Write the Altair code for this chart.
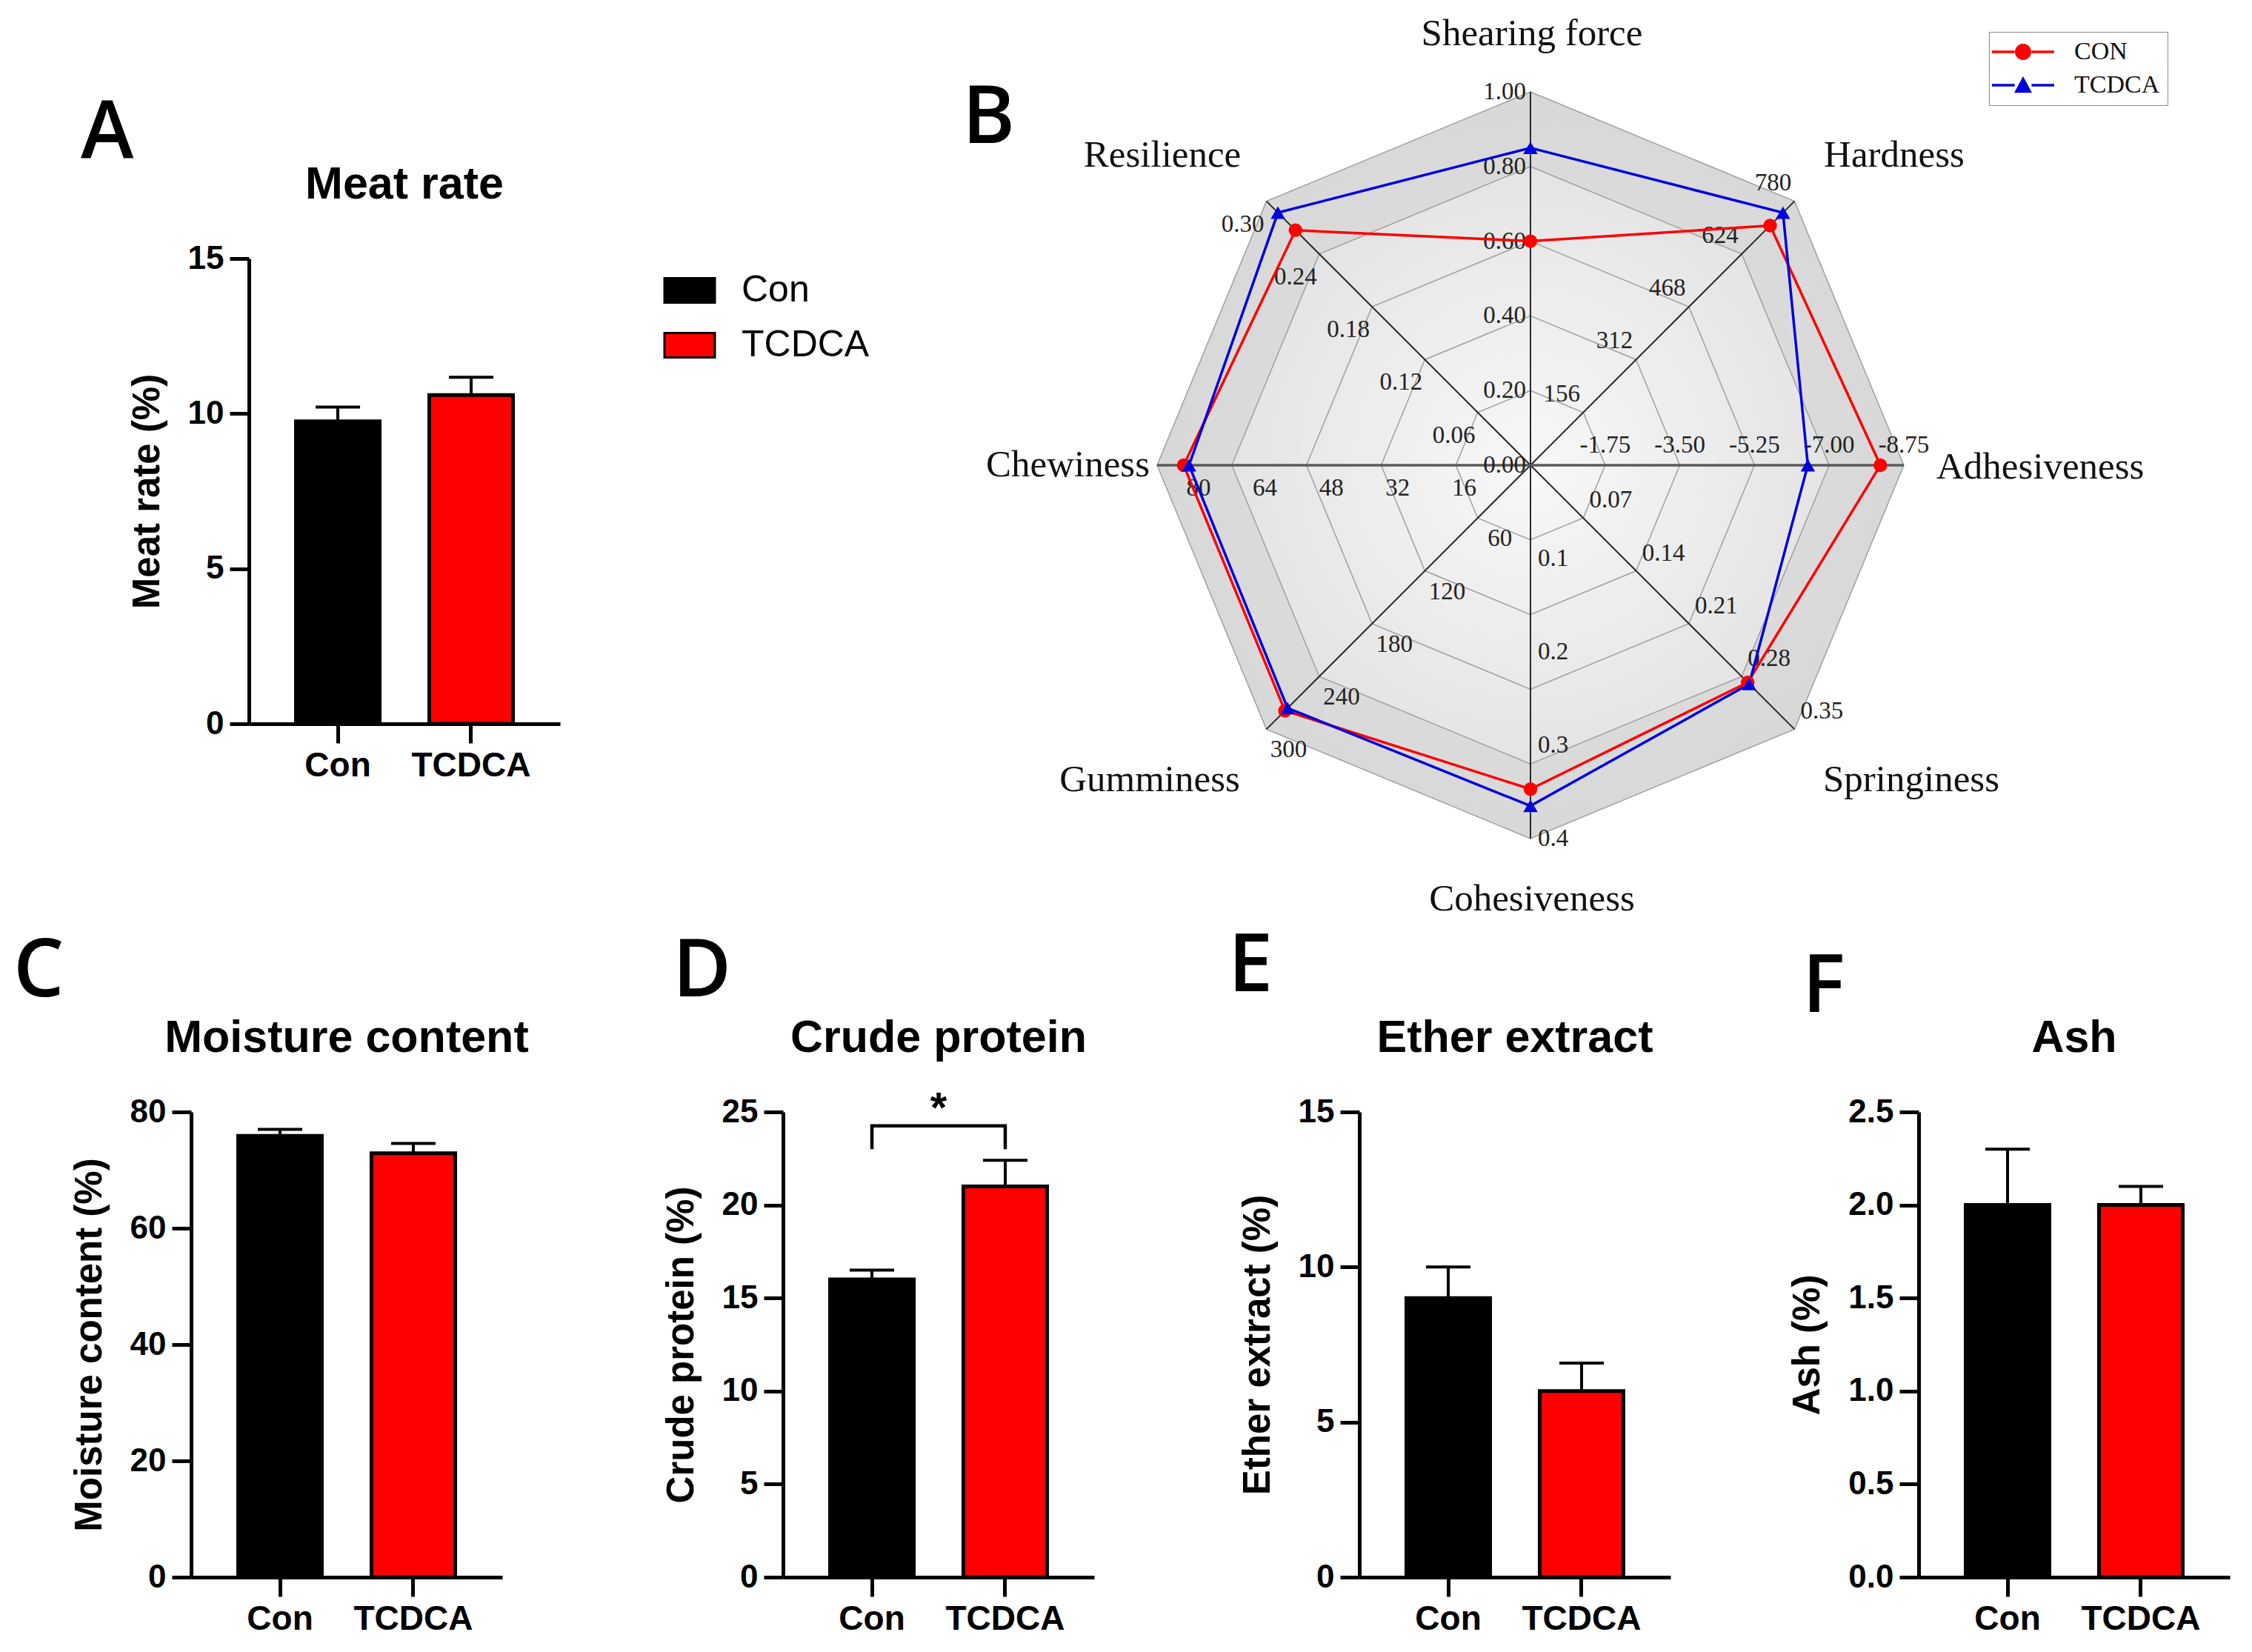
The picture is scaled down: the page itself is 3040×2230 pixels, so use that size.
import math
import altair as alt
import pandas as pd

# ------------------------------------------------------------------ data
GROUPS = ["Con", "TCDCA"]
MEAT_RATE = [9.75, 10.6]
MEAT_RATE_SEM = [0.46, 0.57]
MOISTURE = [75.9, 72.9]
MOISTURE_SEM = [1.1, 1.7]
CRUDE_PROTEIN = [16.0, 21.0]
CRUDE_PROTEIN_SEM = [0.5, 1.4]
ETHER_EXTRACT = [9.0, 6.0]
ETHER_EXTRACT_SEM = [1.0, 0.9]
ASH = [2.0, 2.0]
ASH_SEM = [0.3, 0.1]

RADAR_AXES = ["Shearing force", "Hardness", "Adhesiveness", "Springiness",
              "Cohesiveness", "Gumminess", "Chewiness", "Resilience"]
RADAR_ANGLE = [90, 45, 0, -45, -90, -135, 180, 135]
RADAR_AXIS_MAX = [1.00, 780, -8.75, 0.35, 0.40, 300, 90, 0.30]
RADAR_SERIES = ["CON", "TCDCA"]
RADAR_CON = [0.60, 708, -8.20, 0.288, 0.347, 279, 83.6, 0.267]
RADAR_TCDCA = [0.85, 746, -6.50, 0.290, 0.365, 276, 82.3, 0.287]
RADAR_TICKS = {
    "Shearing force": ["0.00", "0.20", "0.40", "0.60", "0.80", "1.00"],
    "Hardness": ["156", "312", "468", "624", "780"],
    "Adhesiveness": ["-1.75", "-3.50", "-5.25", "-7.00", "-8.75"],
    "Springiness": ["0.07", "0.14", "0.21", "0.28", "0.35"],
    "Cohesiveness": ["0.1", "0.2", "0.3", "0.4"],
    "Gumminess": ["60", "120", "180", "240", "300"],
    "Chewiness": ["16", "32", "48", "64", "80"],
    "Resilience": ["0.06", "0.12", "0.18", "0.24", "0.30"],
}
RADAR_GRID = [0.2, 0.4, 0.6, 0.8, 1.0]

# ------------------------------------------------------------------ style / layout
SANS = "Liberation Sans"
SERIF = "Liberation Serif"
LETTER_FONT = "Open Sans"
RED = "#ff0000"
BLUE = "#0000dd"
BLACK = "#000000"

PANEL_W, PANEL_H = 420, 628
ROW1_W = 2652          # plot area of top row (panel A + radar)
A_SHIFT = 78           # panel A starts this far right of the row origin
R_PX = 504.0           # radar radius in pixels
CX_PX, CY_PX = 1808.0, 279.0   # radar centre in the top row
TITLE_BASE = -81       # baseline of panel titles above plot top
ROW2_GAP = 334
ROW2_EXTRA = [45, 24, 1, 0]   # extra empty room right of each bottom panel

TICK_STYLE = {
    "Shearing force": ("right", -6, 0),
    "Hardness": ("center", -29, -25),
    "Adhesiveness": ("center", 0, -27),
    "Springiness": ("center", 37, -24),
    "Cohesiveness": ("left", 10, 0),
    "Gumminess": ("center", 30, 28),
    "Chewiness": ("center", 0, 31),
    "Resilience": ("center", -32, 31),
}
NAME_STYLE = {
    "Shearing force": ("center", 2, -582),
    "Hardness": ("center", 491, -418),
    "Adhesiveness": ("left", 548, 3),
    "Springiness": ("center", 514, 425),
    "Cohesiveness": ("center", 2, 586),
    "Gumminess": ("center", -514, 425),
    "Chewiness": ("right", -514, 0),
    "Resilience": ("center", -497, -418),
}

RECT_PATH = "M-1,-0.485H1V0.485H-1Z"


def poly_circle(r, n=24):
    pts = ["%s%.3f,%.3f" % ("M" if i == 0 else "L",
                            r * math.cos(2 * math.pi * i / n),
                            r * math.sin(2 * math.pi * i / n)) for i in range(n)]
    return "".join(pts) + "Z"


LINE_SEGS = "M-3.5,-0.15H-0.95V0.15H-3.5Z M0.95,-0.15H3.5V0.15H0.95Z "
P_CON = LINE_SEGS + poly_circle(0.92)
P_TCDCA = LINE_SEGS + "M0,-1.0L1.0,0.85L-1.0,0.85Z"


# ------------------------------------------------------------------ bar panels
def bar_layers(ytitle, vals, sems, ymax, ticks, fmt, xstart=0, yoffset=0,
               legend=None, sig=False):
    df = pd.DataFrame({"group": GROUPS, "value": vals, "sem": sems})
    df["top"] = df["value"] + df["sem"]

    xscale = alt.Scale(domain=GROUPS, paddingInner=0.372, paddingOuter=0.353,
                       range=[xstart, xstart + PANEL_W])
    xaxis = alt.Axis(title=None, labelAngle=0, labelFont=SANS, labelFontSize=46,
                     labelFontWeight="bold", labelColor="black", labelPadding=8,
                     tickSize=26, tickWidth=5, tickColor="black",
                     domainWidth=5, domainColor="black", grid=False)
    yscale = alt.Scale(domain=[0, ymax], nice=False)
    yaxis = alt.Axis(values=ticks, format=fmt, labelFont=SANS, labelFontSize=44,
                     labelFontWeight="bold", labelColor="black", labelPadding=8,
                     tickSize=26, tickWidth=5, tickColor="black",
                     domainWidth=5, domainColor="black", grid=False,
                     titleFont=SANS, titleFontSize=51, titleFontWeight="bold",
                     titleColor="black", titlePadding=28, offset=yoffset)

    def X():
        return alt.X("group:N", sort=GROUPS, scale=xscale, axis=xaxis)

    def Y(field):
        return alt.Y(f"{field}:Q", title=ytitle, scale=yscale, axis=yaxis)

    base = alt.Chart(df)
    bars = base.mark_bar(stroke="black", strokeWidth=5, opacity=1).encode(
        x=X(), y=Y("value"),
        color=alt.Color("group:N", scale=alt.Scale(domain=GROUPS, range=[BLACK, RED]),
                        legend=legend))
    whisker = base.mark_rule(color="black", strokeWidth=4).encode(
        x=X(), y=Y("value"), y2="top:Q")
    cap = base.mark_tick(color="black", thickness=4, size=60,
                         orient="horizontal", opacity=1).encode(x=X(), y=Y("top"))
    layers = [bars, whisker, cap]
    if sig:
        peak = float(df["top"].max())
        br = pd.DataFrame({"group": [GROUPS[0], GROUPS[0], GROUPS[1], GROUPS[1]],
                           "by": [peak + 0.6, peak + 1.85, peak + 1.85, peak + 0.6],
                           "k": [0, 1, 2, 3]})
        layers.append(alt.Chart(br).mark_line(color="black", strokeWidth=4.5).encode(
            x=X(), y=Y("by"), order="k:Q"))
        st = pd.DataFrame({"s": ["*"], "sy": [peak + 2.05]})
        layers.append(alt.Chart(st).mark_text(font=SANS, fontSize=58, fontWeight="bold",
                                              color="black", baseline="alphabetic",
                                              align="center").encode(
            text="s:N", x=alt.value(xstart + PANEL_W / 2), y=Y("sy")))
    return layers


def letter(t, dx, dy):
    return alt.Chart(pd.DataFrame({"t": [t]})).mark_text(
        font=LETTER_FONT, fontSize=108, fontWeight=600, align="left",
        baseline="alphabetic", color="black").encode(
        text="t:N", x=alt.value(dx), y=alt.value(dy))


def title_text(t, cx):
    return alt.Chart(pd.DataFrame({"t": [t]})).mark_text(
        font=SANS, fontSize=61, fontWeight="bold", align="center",
        baseline="alphabetic", color="black").encode(
        text="t:N", x=alt.value(cx), y=alt.value(TITLE_BASE))


# ------------------------------------------------------------------ radar
XD = [-CX_PX / R_PX, (ROW1_W - CX_PX) / R_PX]
YD = [(CY_PX - PANEL_H) / R_PX, CY_PX / R_PX]
SX = alt.Scale(domain=XD, nice=False, zero=False)
SY = alt.Scale(domain=YD, nice=False, zero=False)


def RX(f):
    return alt.X(f, scale=SX, axis=None)


def RY(f):
    return alt.Y(f, scale=SY, axis=None)


def cs(a):
    return math.cos(math.radians(a)), math.sin(math.radians(a))


def octagon(f):
    rows = []
    for a in [180, 135, 90, 45, 0]:
        c, s = cs(a)
        rows.append({"x": f * c, "y": f * s, "y2": -f * s})
    return pd.DataFrame(rows)


def grad(c0, c1):
    return alt.RadialGradient(gradient="radial",
                              stops=[alt.GradientStop(offset=0, color=c0),
                                     alt.GradientStop(offset=1, color=c1)],
                              x1=0.5, y1=0.5, r1=0, x2=0.5, y2=0.5, r2=0.5)


bg_outer = alt.Chart(octagon(1.0)).mark_area(color=grad("#e2e2e2", "#d8d8d8"), opacity=1).encode(
    x=RX("x:Q"), y=RY("y:Q"), y2="y2:Q")
bg_inner = alt.Chart(octagon(0.8)).mark_area(color=grad("#f8f8f8", "#e4e4e4"), opacity=1).encode(
    x=RX("x:Q"), y=RY("y:Q"), y2="y2:Q")

ring_rows = []
for f in RADAR_GRID:
    for k in range(9):
        c, s = cs(RADAR_ANGLE[k % 8])
        ring_rows.append({"ring": f, "k": k, "x": f * c, "y": f * s})
rings = alt.Chart(pd.DataFrame(ring_rows)).mark_line(color="#a0a0a0", strokeWidth=1.5).encode(
    x=RX("x:Q"), y=RY("y:Q"), detail="ring:N", order="k:Q")

spoke_rows = []
for a in RADAR_ANGLE:
    c, s = cs(a)
    spoke_rows.append({"x0": 0.0, "y0": 0.0, "x1": c, "y1": s, "h": a in (0, 180)})
spoke_df = pd.DataFrame(spoke_rows)
spokes = alt.Chart(spoke_df[~spoke_df.h]).mark_rule(color="#2a2a2a", strokeWidth=2).encode(
    x=RX("x0:Q"), y=RY("y0:Q"), x2="x1:Q", y2="y1:Q")
spoke_h = alt.Chart(spoke_df[spoke_df.h]).mark_rule(color="#5a5a5a", strokeWidth=3.5).encode(
    x=RX("x0:Q"), y=RY("y0:Q"), x2="x1:Q", y2="y1:Q")

tick_rows = []
for name, a, mx in zip(RADAR_AXES, RADAR_ANGLE, RADAR_AXIS_MAX):
    al, dx, dy = TICK_STYLE[name]
    c, s = cs(a)
    for lab in RADAR_TICKS[name]:
        f = float(lab) / mx
        tick_rows.append({"label": lab, "align": al,
                          "x": f * c + dx / R_PX, "y": f * s - dy / R_PX})
tick_df = pd.DataFrame(tick_rows)

name_rows = []
for name in RADAR_AXES:
    al, px, py = NAME_STYLE[name]
    name_rows.append({"label": name, "align": al, "x": px / R_PX, "y": -py / R_PX})
name_df = pd.DataFrame(name_rows)


def text_layers(df, size, color):
    out = []
    for al in ["left", "center", "right"]:
        sub = df[df["align"] == al]
        if len(sub) == 0:
            continue
        out.append(alt.Chart(sub).mark_text(font=SERIF, fontSize=size, color=color,
                                            align=al, baseline="middle").encode(
            x=RX("x:Q"), y=RY("y:Q"), text="label:N"))
    return out


ser_rows = []
for sname, vals in zip(RADAR_SERIES, [RADAR_CON, RADAR_TCDCA]):
    for k in range(9):
        i = k % 8
        c, s = cs(RADAR_ANGLE[i])
        r = vals[i] / RADAR_AXIS_MAX[i]
        ser_rows.append({"series": sname, "k": k, "x": r * c, "y": r * s})
ser = alt.Chart(pd.DataFrame(ser_rows))

line_con = ser.transform_filter("datum.series == 'CON'").mark_line(
    color=RED, strokeWidth=3.5).encode(x=RX("x:Q"), y=RY("y:Q"), order="k:Q")
line_tc = ser.transform_filter("datum.series == 'TCDCA'").mark_line(
    color=BLUE, strokeWidth=3.5).encode(x=RX("x:Q"), y=RY("y:Q"), order="k:Q")
pts_con = ser.transform_filter("datum.series == 'CON' && datum.k < 8").mark_point(
    color=RED, filled=True, shape="circle", size=340, opacity=1).encode(x=RX("x:Q"), y=RY("y:Q"))
pts_tc = ser.transform_filter("datum.series == 'TCDCA' && datum.k < 8").mark_point(
    color=BLUE, filled=True, shape="triangle-up", size=380, opacity=1).encode(x=RX("x:Q"), y=RY("y:Q"))

radar_leg = alt.Legend(title=None, orient="none", legendX=2427, legendY=-306, padding=10,
                       strokeColor="#8a8a8a", fillColor="white", symbolSize=576,
                       symbolStrokeWidth=0, symbolOffset=19, labelOffset=52, rowPadding=11,
                       labelFont=SERIF, labelFontSize=34, labelColor="#111111",
                       symbolOpacity=1, labelLimit=400)
legend_layer = ser.transform_filter("datum.k < 0").mark_point(filled=True, opacity=1).encode(
    x=RX("x:Q"), y=RY("y:Q"),
    color=alt.Color("series:N", scale=alt.Scale(domain=RADAR_SERIES, range=[RED, BLUE]),
                    legend=radar_leg),
    shape=alt.Shape("series:N", scale=alt.Scale(domain=RADAR_SERIES, range=[P_CON, P_TCDCA]),
                    legend=radar_leg))

radar = alt.layer(bg_outer, bg_inner, rings, spokes, spoke_h, *text_layers(tick_df, 33, "#222222"),
                  line_con, line_tc, pts_con, pts_tc, *text_layers(name_df, 51, "#111111"),
                  legend_layer)

# ------------------------------------------------------------------ panel A (in the top row)
leg_a = alt.Legend(title=None, orient="none", legendX=637.5, legendY=7.5, padding=0,
                   symbolType=RECT_PATH, symbolSize=4624, symbolStrokeColor="black",
                   symbolStrokeWidth=3, symbolOpacity=1, labelFont=SANS, labelFontSize=50,
                   labelFontWeight="normal", labelColor="black", labelOffset=34.5,
                   rowPadding=13, labelLimit=400)
panel_a = alt.layer(*bar_layers("Meat rate (%)", MEAT_RATE, MEAT_RATE_SEM, 15, [0, 5, 10, 15], "d",
                                xstart=A_SHIFT, yoffset=-A_SHIFT, legend=leg_a))

row1 = alt.layer(panel_a, radar,
                 title_text("Meat rate", A_SHIFT + PANEL_W / 2),
                 letter("A", A_SHIFT - 227, -135), letter("B", 1041, -156)).resolve_scale(
    x="independent", y="independent", color="independent", shape="independent"
).properties(width=ROW1_W, height=PANEL_H)


# ------------------------------------------------------------------ bottom row
def panel(ttl, ytitle, vals, sems, ymax, ticks, fmt, let, ldx, ldy, extra, sig=False):
    return alt.layer(*bar_layers(ytitle, vals, sems, ymax, ticks, fmt, sig=sig),
                     title_text(ttl, PANEL_W / 2),
                     letter(let, ldx, ldy)).properties(width=PANEL_W + extra, height=PANEL_H)


pc = panel("Moisture content", "Moisture content (%)", MOISTURE, MOISTURE_SEM, 80,
           [0, 20, 40, 60, 80], "d", "C", -240, -156, ROW2_EXTRA[0])
pd_ = panel("Crude protein", "Crude protein (%)", CRUDE_PROTEIN, CRUDE_PROTEIN_SEM, 25,
            [0, 5, 10, 15, 20, 25], "d", "D", -149, -156, ROW2_EXTRA[1], sig=True)
pe = panel("Ether extract", "Ether extract (%)", ETHER_EXTRACT, ETHER_EXTRACT_SEM, 15,
           [0, 5, 10, 15], "d", "E", -177, -163, ROW2_EXTRA[2])
pf = panel("Ash", "Ash (%)", ASH, ASH_SEM, 2.5, [0, 0.5, 1.0, 1.5, 2.0, 2.5], ".1f", "F", -157, -135,
           ROW2_EXTRA[3])

row2 = alt.hconcat(pc, pd_, pe, pf, spacing=ROW2_GAP, bounds="flush").resolve_scale(color="independent")

chart = alt.vconcat(row1, row2, spacing=524, bounds="flush").resolve_scale(
    color="independent", shape="independent"
).properties(padding={"left": 10, "top": 12, "right": 4, "bottom": 4}
).configure(font=SANS, background="white",
            view=alt.ViewConfig(stroke="transparent", strokeWidth=0))

chart.save("out.html", embed_options={"renderer": "svg", "actions": False})
